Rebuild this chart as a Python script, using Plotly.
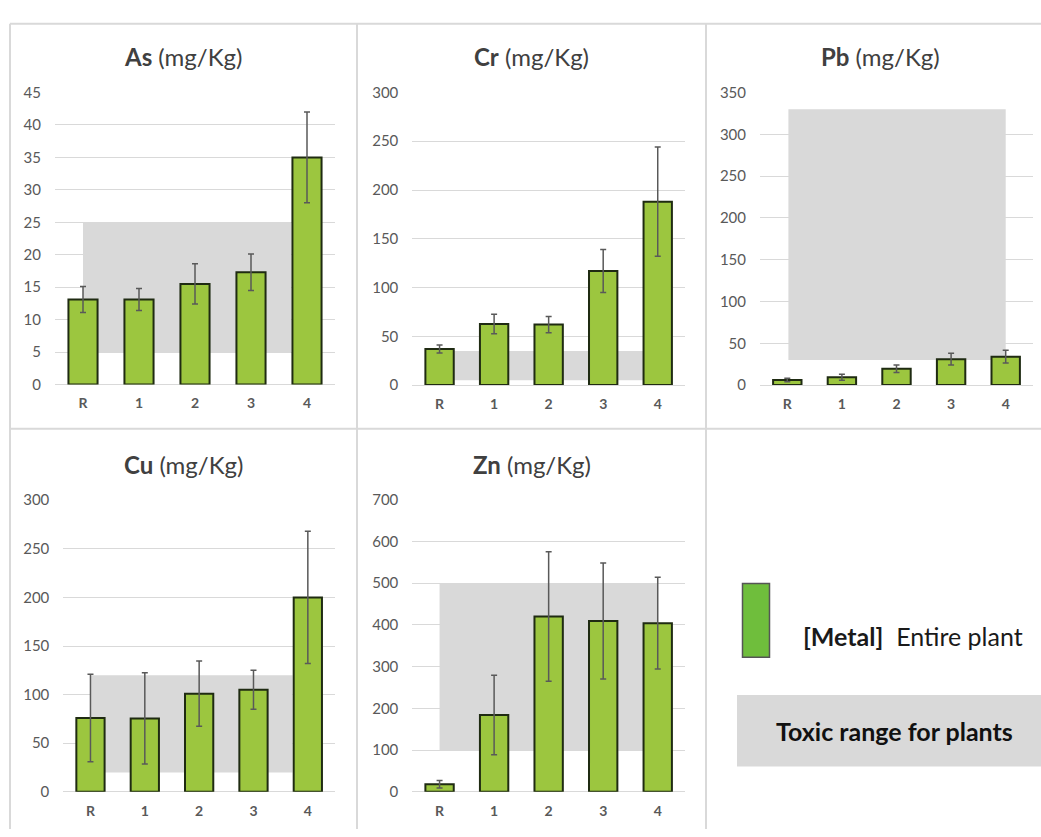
import plotly.graph_objects as go

# ---------------- data ----------------
categories = ["R", "1", "2", "3", "4"]

metals = ["As", "Cr", "Pb", "Cu", "Zn"]

as_values = [13.1, 13.1, 15.5, 17.3, 35.0]
as_errors = [2.0, 1.7, 3.1, 2.8, 7.0]

cr_values = [37, 62.5, 62, 117, 188]
cr_errors = [4, 10, 8.3, 22, 56]

pb_values = [6, 9.4, 19.5, 31, 34]
pb_errors = [2, 3.5, 4.5, 7, 7.5]

cu_values = [76, 75.5, 101, 105, 200]
cu_errors = [45, 47, 33.5, 20, 68]

zn_values = [18, 184, 420, 409, 404]
zn_errors = [9, 95, 155, 139, 110]

# toxic range for plants (low, high)
toxic_low = [5, 5, 30, 20, 100]
toxic_high = [25, 35, 330, 120, 500]

axis_max = [45, 300, 350, 300, 700]
axis_step = [5, 50, 50, 50, 100]

values = [as_values, cr_values, pb_values, cu_values, zn_values]
errors = [as_errors, cr_errors, pb_errors, cu_errors, zn_errors]

# ---------------- layout geometry (pixels) ----------------
W, H = 1041, 837


def px_x(p):
    return p / W


def px_y(p):
    return 1 - p / H


# plot areas: (left, right, top, bottom) in px
areas = [
    (55, 335, 84.3, 382.7),
    (412.3, 685, 84.3, 383.3),
    (760, 1033, 84.3, 383.3),
    (63.3, 335, 501, 799),
    (412.3, 685, 500.3, 799),
]
# horizontal extent of the grey band (category index units)
band_x = [(0, 3.72), (0, 3.74), (0.02, 4.0), (0, 3.72), (0, 4.0)]
# title centres (px)
title_pos = [(183, 48), (531.5, 48), (880, 48), (183, 464), (532, 464)]

BAR_FILL = "#9cc63f"
BAR_LINE = "#1f2b12"
GREY = "#d9d9d9"
GRID = "#d9d9d9"
TICK = "#595959"
FONT = "Lato"

fig = go.Figure()
shapes = []
annotations = []

for i, m in enumerate(metals):
    ax = "" if i == 0 else str(i + 1)
    xa = "x" + ax
    ya = "y" + ax
    fig.add_trace(
        go.Bar(
            x=categories,
            y=values[i],
            width=0.52,
            marker=dict(color=BAR_FILL, line=dict(color=BAR_LINE, width=2)),
            error_y=dict(
                type="data",
                array=errors[i],
                visible=True,
                color="#595959",
                thickness=1.5,
                width=3,
            ),
            xaxis=xa,
            yaxis=ya,
            showlegend=False,
            hoverinfo="y",
        )
    )
    l, r, t, b = areas[i]
    fig.layout["xaxis" + ax] = dict(
        domain=[px_x(l), px_x(r)],
        anchor=ya,
        type="category",
        range=[-0.5, 4.5],
        showgrid=False,
        showline=False,
        zeroline=False,
        ticks="",
        tickfont=dict(family=FONT, size=14, color=TICK, weight="bold"),
        ticklabelstandoff=9,
        fixedrange=True,
    )
    fig.layout["yaxis" + ax] = dict(
        domain=[px_y(b), px_y(t)],
        anchor=xa,
        range=[0, axis_max[i]],
        dtick=axis_step[i],
        tick0=0,
        showgrid=True,
        gridcolor=GRID,
        gridwidth=1,
        zeroline=True,
        zerolinecolor=GRID,
        zerolinewidth=1,
        showline=False,
        ticks="",
        tickfont=dict(family=FONT, size=15, color=TICK),
        ticklabelstandoff=13,
        fixedrange=True,
    )
    shapes.append(
        dict(
            type="rect",
            xref=xa,
            yref=ya,
            x0=band_x[i][0],
            x1=band_x[i][1],
            y0=toxic_low[i],
            y1=toxic_high[i],
            fillcolor=GREY,
            line=dict(width=0),
            layer="between",
        )
    )
    tx, ty = title_pos[i]
    annotations.append(
        dict(
            xref="paper",
            yref="paper",
            x=px_x(tx),
            y=px_y(ty),
            xanchor="center",
            yanchor="middle",
            showarrow=False,
            text="<b>" + m + "</b> (mg/Kg)",
            font=dict(family=FONT, size=24, color="#404040"),
        )
    )

# panel borders
BORDER = "#d9d9d9"
for (x0, y0, x1, y1) in [
    (10, 14, W, 14),
    (10, 428, W, 428),
    (10, 14, 10, H),
    (357, 14, 357, H),
    (706, 14, 706, H),
]:
    shapes.append(
        dict(
            type="line",
            xref="paper",
            yref="paper",
            x0=px_x(x0),
            x1=px_x(x1),
            y0=px_y(y0),
            y1=px_y(y1),
            line=dict(color=BORDER, width=2),
            layer="below",
        )
    )

# legend: green swatch
shapes.append(
    dict(
        type="rect",
        xref="paper",
        yref="paper",
        x0=px_x(742.5),
        x1=px_x(769.5),
        y0=px_y(661.5),
        y1=px_y(586),
        fillcolor="#6fbe3c",
        line=dict(color="#555555", width=1.5),
    )
)
annotations.append(
    dict(
        xref="paper",
        yref="paper",
        x=px_x(801),
        y=px_y(640),
        xanchor="left",
        yanchor="middle",
        showarrow=False,
        text="<b>[Metal]</b>  Entire plant",
        font=dict(family=FONT, size=25, color="#1a1a1a"),
    )
)
# legend: grey box
shapes.append(
    dict(
        type="rect",
        xref="paper",
        yref="paper",
        x0=px_x(737),
        x1=px_x(W),
        y0=px_y(773),
        y1=px_y(700),
        fillcolor=GREY,
        line=dict(width=0),
    )
)
annotations.append(
    dict(
        xref="paper",
        yref="paper",
        x=px_x(894),
        y=px_y(737),
        xanchor="center",
        yanchor="middle",
        showarrow=False,
        text="<b>Toxic range for plants</b>",
        font=dict(family=FONT, size=25, color="#111111"),
    )
)

fig.update_layout(
    width=W,
    height=H,
    margin=dict(l=0, r=0, t=0, b=0),
    paper_bgcolor="white",
    plot_bgcolor="rgba(0,0,0,0)",
    shapes=shapes,
    annotations=annotations,
    showlegend=False,
)

fig.write_html(
    "out.html",
    config={"displayModeBar": False},
    post_script="document.body.style.margin='0';document.body.style.overflow='hidden';",
)
